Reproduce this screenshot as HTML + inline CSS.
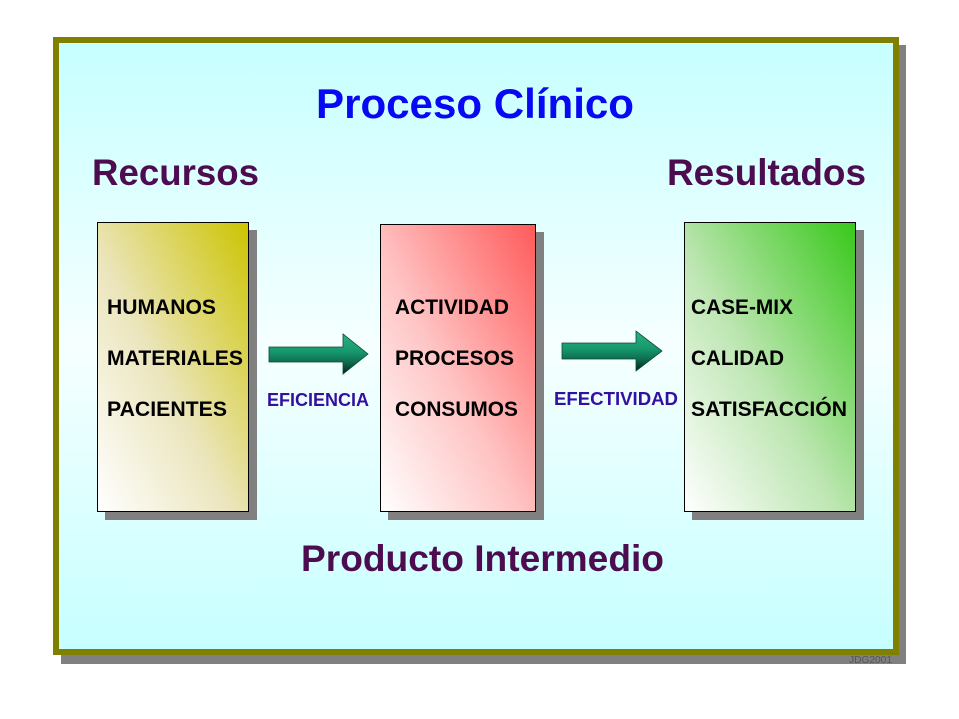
<!DOCTYPE html>
<html>
<head>
<meta charset="utf-8">
<style>
  html,body{margin:0;padding:0;background:#ffffff;}
  svg{display:block;}
  text{font-family:"Liberation Sans", Arial, sans-serif;}
</style>
</head>
<body>
<svg width="959" height="719" viewBox="0 0 959 719" xmlns="http://www.w3.org/2000/svg">
  <defs>
    <linearGradient id="bg" x1="0" y1="0" x2="0" y2="1">
      <stop offset="0" stop-color="#c6ffff"/>
      <stop offset="0.5" stop-color="#f6ffff"/>
      <stop offset="1" stop-color="#c6ffff"/>
    </linearGradient>
    <linearGradient id="g1" x1="1" y1="0" x2="0" y2="1">
      <stop offset="0" stop-color="#ccc400"/>
      <stop offset="0.55" stop-color="#ebe5bc"/>
      <stop offset="1" stop-color="#ffffff"/>
    </linearGradient>
    <linearGradient id="g2" x1="1" y1="0" x2="0" y2="1">
      <stop offset="0" stop-color="#ff5a5a"/>
      <stop offset="0.55" stop-color="#ffc4c4"/>
      <stop offset="1" stop-color="#ffffff"/>
    </linearGradient>
    <linearGradient id="g3" x1="1" y1="0" x2="0" y2="1">
      <stop offset="0" stop-color="#38c81a"/>
      <stop offset="0.55" stop-color="#bde6b2"/>
      <stop offset="1" stop-color="#ffffff"/>
    </linearGradient>
    <linearGradient id="ga" x1="0" y1="0" x2="0" y2="1">
      <stop offset="0" stop-color="#2ab282"/>
      <stop offset="0.45" stop-color="#16976c"/>
      <stop offset="0.7" stop-color="#0e6e4e"/>
      <stop offset="1" stop-color="#00241a"/>
    </linearGradient>
  </defs>

  <!-- frame shadow -->
  <rect x="61" y="45" width="845" height="619" fill="#808080"/>
  <!-- frame -->
  <rect x="56" y="40" width="840" height="612" fill="url(#bg)" stroke="#808000" stroke-width="6"/>

  <!-- titles -->
  <text x="316" y="118" font-size="42" font-weight="bold" fill="#0808f4" textLength="318" lengthAdjust="spacingAndGlyphs">Proceso Clínico</text>
  <text x="92" y="185" font-size="37" font-weight="bold" fill="#4d0c4f" textLength="167" lengthAdjust="spacingAndGlyphs">Recursos</text>
  <text x="667" y="185" font-size="37" font-weight="bold" fill="#4d0c4f" textLength="199" lengthAdjust="spacingAndGlyphs">Resultados</text>
  <text x="301" y="571" font-size="37" font-weight="bold" fill="#4d0c4f" textLength="363" lengthAdjust="spacingAndGlyphs">Producto Intermedio</text>

  <!-- box shadows -->
  <rect x="105" y="230" width="152" height="290" fill="#808080"/>
  <rect x="388" y="232" width="156" height="288" fill="#808080"/>
  <rect x="692" y="230" width="172" height="290" fill="#808080"/>

  <!-- boxes -->
  <rect x="97.5" y="222.5" width="151" height="289" fill="url(#g1)" stroke="#000" stroke-width="1"/>
  <rect x="380.5" y="224.5" width="155" height="287" fill="url(#g2)" stroke="#000" stroke-width="1"/>
  <rect x="684.5" y="222.5" width="171" height="289" fill="url(#g3)" stroke="#000" stroke-width="1"/>

  <!-- box texts -->
  <g font-size="21" font-weight="bold" fill="#000">
    <text x="107" y="314" textLength="109" lengthAdjust="spacingAndGlyphs">HUMANOS</text>
    <text x="107" y="365" textLength="136" lengthAdjust="spacingAndGlyphs">MATERIALES</text>
    <text x="107" y="416" textLength="120" lengthAdjust="spacingAndGlyphs">PACIENTES</text>

    <text x="395" y="314" textLength="114" lengthAdjust="spacingAndGlyphs">ACTIVIDAD</text>
    <text x="395" y="365" textLength="119" lengthAdjust="spacingAndGlyphs">PROCESOS</text>
    <text x="395" y="416" textLength="123" lengthAdjust="spacingAndGlyphs">CONSUMOS</text>

    <text x="691" y="314" textLength="102" lengthAdjust="spacingAndGlyphs">CASE-MIX</text>
    <text x="691" y="365" textLength="93" lengthAdjust="spacingAndGlyphs">CALIDAD</text>
    <text x="691" y="416" textLength="156" lengthAdjust="spacingAndGlyphs">SATISFACCIÓN</text>
  </g>

  <!-- arrows -->
  <polygon points="269,347 343,347 343,334 368,354 343,374 343,362 269,362" fill="url(#ga)" stroke="#0b4a36" stroke-width="0.8"/>
  <polygon points="562,343 636,343 636,331 662,351 636,371 636,359 562,359" fill="url(#ga)" stroke="#0b4a36" stroke-width="0.8"/>

  <!-- arrow labels -->
  <text x="267" y="406" font-size="18" font-weight="bold" fill="#3310a0" textLength="102" lengthAdjust="spacingAndGlyphs">EFICIENCIA</text>
  <text x="554" y="405" font-size="18" font-weight="bold" fill="#3310a0" textLength="124" lengthAdjust="spacingAndGlyphs">EFECTIVIDAD</text>

  <!-- footer mark -->
  <text x="849" y="663" font-size="10" fill="#555555" textLength="43" lengthAdjust="spacingAndGlyphs">JDG2001</text>
</svg>
</body>
</html>
